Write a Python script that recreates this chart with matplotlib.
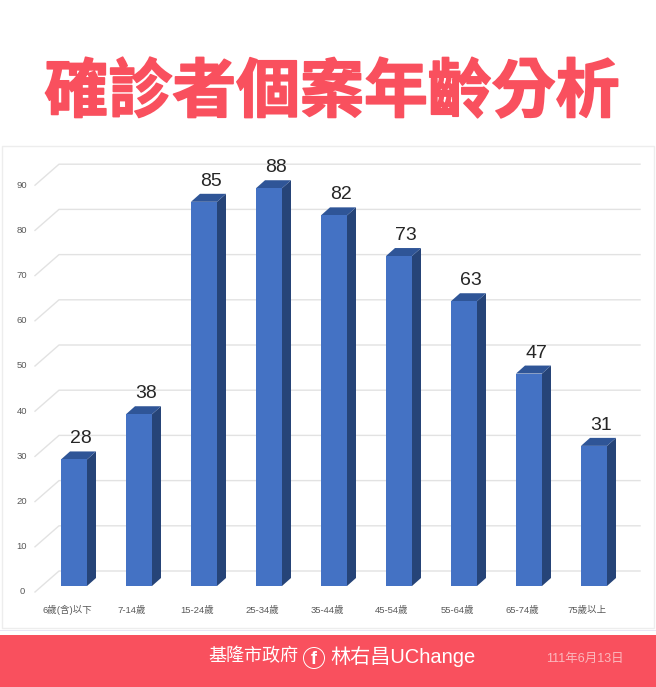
import matplotlib
matplotlib.use("Agg")
import matplotlib.pyplot as plt
import matplotlib.patheffects as pe
from matplotlib.patches import Polygon, Rectangle, Ellipse

plt.rcParams["font.family"] = ["Liberation Sans", "Noto Sans CJK TC", "DejaVu Sans"]

W, H = 656, 687

categories = ["6歲(含)以下", "7-14歲", "15-24歲", "25-34歲", "35-44歲",
              "45-54歲", "55-64歲", "65-74歲", "75歲以上"]
cases = [28, 38, 85, 88, 82, 73, 63, 47, 31]
y_ticks = [0, 10, 20, 30, 40, 50, 60, 70, 80, 90]

title = "確診者個案年齡分析"
RED = "#F9505E"

# pixel helpers, everything on the page is laid out from the 656x687 picture
def fx(px):
    return px / W

def fy(py):
    return 1 - py / H

fig = plt.figure(figsize=(W / 100, H / 100), dpi=100, facecolor="white")

# panel behind the chart
fig.add_artist(Rectangle((fx(2), fy(628)), fx(652), (628 - 146) / H, facecolor="white",
                         edgecolor="#EDEDED", lw=1, zorder=-1))

# axes fill the figure: px x = 74 + 65*i, px y = 586 - 4.52*v
X0, XS, Y0, YS = 74, 65, 586, 4.52
ax = fig.add_axes([0, 0, 1, 1], facecolor="none")
ax.set_xlim((0 - X0) / XS, (W - X0) / XS)
ax.set_ylim((Y0 - H) / YS, Y0 / YS)
ax.axis("off")

dx_wall, dy_wall = 24 / XS, 21 / YS
x_front = (35 - X0) / XS
x_right = (640 - X0) / XS
y_base = -6 / YS
for t in y_ticks:
    yf = t + y_base
    ax.plot([x_front, x_front + dx_wall, x_right], [yf, yf + dy_wall, yf + dy_wall],
            color="#E2E2E2", lw=1.0, zorder=1)
    ax.text((22 - X0) / XS, yf, str(t), ha="center", va="center", fontsize=6.8, color="#595959")

bar_w = 26 / XS
dx, dy = 9 / XS, 8 / YS
for i, v in enumerate(cases):
    l, r = i - bar_w / 2, i + bar_w / 2
    ax.add_patch(Polygon([(r, 0), (r + dx, dy), (r + dx, v + dy), (r, v)],
                         facecolor="#264478", edgecolor="none", zorder=2))
    ax.add_patch(Polygon([(l, v), (l + dx, v + dy), (r + dx, v + dy), (r, v)],
                         facecolor="#2F5597", edgecolor="none", zorder=2))
    ax.bar(i, v, width=bar_w, color="#4472C4", zorder=3)
    ax.text(i + 7 / XS, v + 20.5 / YS, str(v), ha="center", va="center", fontsize=14,
            color="#262626", zorder=4)
    ax.text(i - 7 / XS, -24 / YS, categories[i], ha="center", va="center",
            fontsize=6.8, color="#595959")

# big title
fig.text(fx(332), fy(93), title, ha="center", va="center", fontsize=46, fontweight=900,
         color=RED, family=["Noto Sans CJK TC", "DejaVu Sans"],
         path_effects=[pe.Stroke(linewidth=1.2, foreground=RED, joinstyle="round")])

# footer band
fig.add_artist(Rectangle((0, fy(630.5)), 1, 1 / H, facecolor="#E9E6F5", edgecolor="none"))
fig.add_artist(Rectangle((0, 0), 1, (H - 635) / H, facecolor=RED, edgecolor="none"))
fig.text(fx(208), fy(657), "基隆市政府", ha="left", va="center", fontsize=13, color="white")
fig.add_artist(Ellipse((fx(314), fy(658)), 21 / W, 21 / H, facecolor="none", edgecolor="white", lw=0.7))
fig.text(fx(314), fy(660), "f", ha="center", va="center", fontsize=13, fontweight="bold", color="white")
fig.text(fx(330), fy(657), "林右昌UChange", ha="left", va="center", fontsize=14.5, color="white")
fig.text(fx(546), fy(659), "111年6月13日", ha="left", va="center", fontsize=9, color="#FBB9BE")

fig.savefig("out.png", dpi=100)
